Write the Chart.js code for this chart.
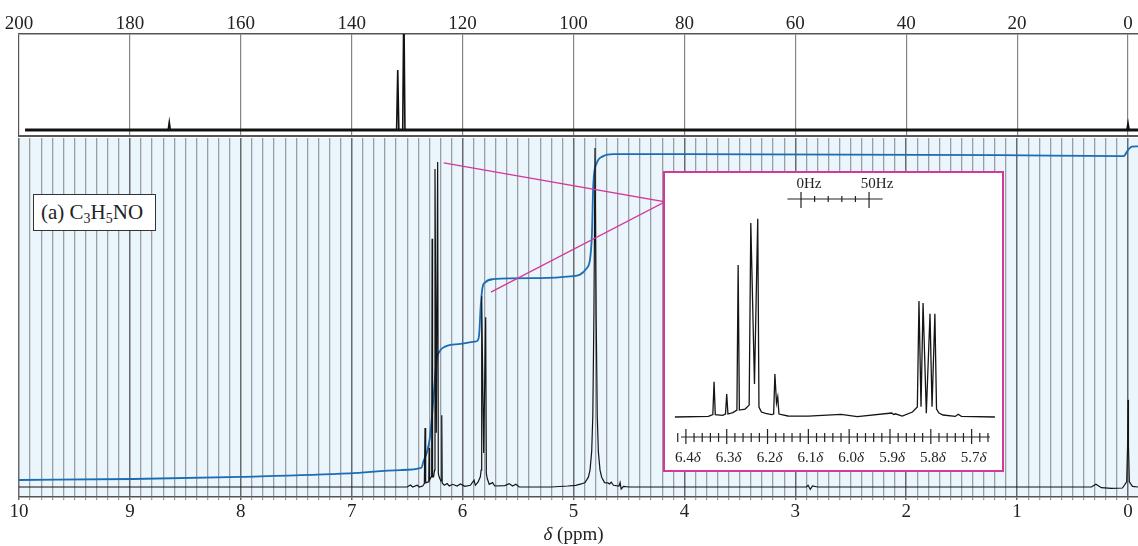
<!DOCTYPE html>
<html>
<head>
<meta charset="utf-8">
<script src="https://cdn.jsdelivr.net/npm/chart.js@4"></script>
<style>
  body { margin: 0; background: #fff; }
  #wrap { position: relative; width: 1138px; height: 546px; overflow: hidden; }
  canvas { position: absolute; left: 0; top: 0; }
  #inset { position: absolute; left: 663px; top: 171px; width: 341px; height: 301px; box-sizing: border-box;
           border: 2px solid #d6379a; background: #fff; }
  #formula { position: absolute; left: 33px; top: 194px; width: 123px; height: 37px; box-sizing: border-box;
             border: 1px solid #333; background: #fff; font: 21px "Liberation Serif", serif; color: #222;
             padding-left: 7px; line-height: 34px; white-space: nowrap; }
  #formula sub { font-size: 14px; vertical-align: -4px; line-height: 0; }
</style>
</head>
<body>
<div id="wrap">
  <canvas id="cChart" width="1138" height="546"></canvas>
  <canvas id="hChart" width="1138" height="546"></canvas>
  <div id="formula">(a) C<sub>3</sub>H<sub>5</sub>NO</div>
  <div id="inset"></div>
  <canvas id="insetChart" width="1138" height="546"></canvas>
</div>
<script>
const SERIF = '"Liberation Serif", "Times New Roman", serif';

// 13C spectrum (ppm, intensity)
const cPpm = [198.9, 173.1, 172.9, 172.7, 131.9, 131.7, 131.5, 130.8, 130.6, 130.4, 0.2, 0.0, -0.2, -1.8];
const cInt = [0, 0, 8, 0, 0, 60, 0, 0, 130, 0, 0, 7, 0, 0];
const cNoise = [[198.9, 0], [-1.8, 0]];
const cTicks = [0, 20, 40, 60, 80, 100, 120, 140, 160, 180, 200];

// 1H spectrum (ppm, intensity)
const hPpm = [10.0, 6.50, 6.47, 6.45, 6.41, 6.39, 6.36, 6.345, 6.339, 6.333, 6.31, 6.305, 6.302, 6.298, 6.283, 6.279, 6.275,
  6.271, 6.262, 6.253, 6.249, 6.237, 6.225, 6.219, 6.212, 6.196, 6.192, 6.188, 6.184, 6.165, 6.14, 6.12, 6.09, 6.05, 6.02, 5.98, 5.93,
  5.897, 5.885, 5.86, 5.84, 5.833, 5.828, 5.81, 5.792, 5.786, 5.778, 5.76, 5.73, 5.71, 5.62, 5.58, 5.55, 5.52, 5.49, 5.20,
  5.05, 4.98, 4.93, 4.896, 4.866, 4.851, 4.836, 4.826, 4.816, 4.806, 4.796, 4.786, 4.776, 4.761, 4.746, 4.72,
  4.69, 4.675, 4.66, 4.64, 4.59, 4.58, 4.57, 4.55, 4.50, 2.90, 2.885, 2.865, 2.845, 2.80, 0.33, 0.29, 0.24,
  0.15, 0.05, 0.012, 0.004, 0.0, -0.004, -0.012, -0.04, -0.09];
const hInt = [0, 0, 0.6, 0, 0.5, 0, 0.3, 1.0, 17.4, 1.2, 1.5, 2, 11.5, 2, 3, 4, 73.2,
  3, 3, 5, 93.8, 16, 95.9, 4, 3, 1.8, 2, 21.2, 1.2, 0.5, 1.0, 0.3, 0.8, 0.3, 0.9, 0.2, 0.5,
  2.0, 0.5, 1.5, 3, 5, 56.3, 10, 50.1, 4, 2.5, 0.8, 1.3, 0.3, 0.4, 1.0, 0.3, 0.8, 0, 0,
  0.3, 0.5, 0.9, 1.3, 2.9, 5, 10.5, 21, 51, 100, 51, 21, 10.5, 5, 2.9, 1.3,
  1.2, 0.9, 1.4, 0.5, 0.3, 1.3, -0.6, 0.2, 0, 0, 0.5, -0.7, 0.3, 0, 0, 0.8, -0.2,
  -0.4, -0.3, 1.5, 12, 25.7, 12, 1.5, 0.2, 0];

// integral trace
const iPpm = [10.0, 8.97, 8.0, 7.02, 6.56, 6.37, 6.354, 6.324, 6.294, 6.264, 6.234, 6.21, 6.159, 6.02, 5.89,
  5.867, 5.85, 5.837, 5.822, 5.798, 5.723, 5.30, 5.002, 4.881, 4.836, 4.821, 4.791, 4.731, 4.641, 4.04,
  1.15, 0.04, 0.0, -0.034, -0.09];
const iVal = [2.06, 2.36, 3.0, 4.0, 5.0, 5.7, 7.5, 10, 14.8, 25.7, 37.5, 39.9, 41.4, 42.2, 42.9,
  43.1, 45.3, 53.2, 58.6, 60.3, 61.3, 61.6, 62.2, 64.5, 72.9, 89.6, 95.5, 97.6, 98.2, 98.2,
  97.9, 97.6, 99.4, 100.4, 100.5];

// expansion guide lines (ppm, intensity)
const linkPpm = [6.17, 4.175, 5.745];
const linkInt = [95.6, 84.1, 57.5];

// expanded region 6.4 - 5.7 ppm
const xPpm = [6.427, 6.345, 6.334, 6.331, 6.328, 6.31, 6.303, 6.300, 6.297, 6.285, 6.275, 6.272, 6.269, 6.255,
  6.245, 6.241, 6.232, 6.224, 6.221, 6.215, 6.205, 6.19, 6.185, 6.182, 6.178, 6.175, 6.172, 6.15, 6.10,
  6.02, 5.98, 5.896, 5.891, 5.887, 5.87, 5.845, 5.833, 5.829, 5.824, 5.819, 5.811, 5.802, 5.797, 5.790,
  5.786, 5.78, 5.77, 5.74, 5.733, 5.725, 5.643];
const xInt = [0, 0.3, 1.2, 17.7, 1.2, 0.8, 1.5, 11.6, 1.5, 2.2, 3.5, 76.7, 3.5, 4,
  6, 97.8, 16.6, 100, 5, 2.5, 1.8, 1.2, 1.5, 21.7, 7, 10.1, 1.5, 0.5, 0.4,
  1.3, 0.2, 2, 1.2, 1.6, 0.5, 2.5, 5, 58.5, 5.2, 57.5, 1.9, 52, 5.2, 52,
  4, 2, 1, 0.3, 1.4, 0.3, 0];
const xMajor = [6.4, 6.3, 6.2, 6.1, 6.0, 5.9, 5.8, 5.7];
const hzZero = 6.118, mhz = 300;
const hzTicks = [0, 10, 20, 30, 40, 50];
const hzLabels = { 0: '0Hz', 50: '50Hz' };

const pts = (xs, ys) => xs.map((x, i) => ({ x, y: ys[i] }));
const isInt = v => Math.abs(v - Math.round(v)) < 1e-6;
const base = {
  type: 'line',
  options: {
    responsive: false, animation: false, devicePixelRatio: 1, events: [],
    plugins: { legend: { display: false }, tooltip: { enabled: false } },
    elements: { point: { radius: 0 } }
  }
};

// ---- 13C panel
const cFrame = {
  id: 'cFrame',
  afterDraw(chart) {
    const { ctx, chartArea: a } = chart;
    ctx.save();
    ctx.strokeStyle = '#555';
    ctx.lineWidth = 2;
    ctx.beginPath();
    ctx.moveTo(a.left, a.bottom - 1);
    ctx.lineTo(a.right, a.bottom - 1);
    ctx.stroke();
    ctx.restore();
  }
};

new Chart(document.getElementById('cChart'), {
  ...base,
  data: {
    datasets: [
      { data: pts(cPpm, cInt), borderColor: '#111', borderWidth: 1.6 },
      { data: cNoise.map(p => ({ x: p[0], y: p[1] })), borderColor: '#151515', borderWidth: 3.2 }
    ]
  },
  options: {
    ...base.options,
    layout: { padding: { left: 19, right: 0, top: 0, bottom: 409 } },
    scales: {
      x: {
        type: 'linear', position: 'top', min: -1.8, max: 200, reverse: true,
        afterBuildTicks: s => { s.ticks = cTicks.map(v => ({ value: v })); },
        afterFit: s => { s.height = 34; },
        grid: { color: c => c.tick.value === 200 ? '#555' : '#858585', lineWidth: 1.2, drawTicks: false },
        border: { display: true, color: '#555', width: 1.5 },
        ticks: { autoSkip: false, maxRotation: 0, padding: -1, color: '#222', font: { family: SERIF, size: 19 } }
      },
      y: { display: false, min: -7, max: 96 }
    }
  },
  plugins: [cFrame]
});

// ---- 1H panel
const hTicks = [];
for (let i = 0; i <= 100; i++) hTicks.push(i / 10);

const hPanel = {
  id: 'hPanel',
  beforeDraw(chart) {
    const { ctx, chartArea: a } = chart;
    ctx.save();
    ctx.fillStyle = '#eaf5fc';
    ctx.fillRect(a.left, a.top, a.right - a.left, a.bottom - a.top);
    ctx.restore();
  },
  afterDraw(chart) {
    const { ctx, scales: { x } } = chart;
    const cx = x.getPixelForValue(5);
    ctx.save();
    ctx.fillStyle = '#222';
    ctx.textBaseline = 'alphabetic';
    ctx.font = 'italic 19px ' + SERIF;
    const w1 = ctx.measureText('δ').width;
    ctx.font = '19px ' + SERIF;
    const w2 = ctx.measureText(' (ppm)').width;
    const x0 = cx - (w1 + w2) / 2;
    ctx.font = 'italic 19px ' + SERIF;
    ctx.fillText('δ', x0, 540);
    ctx.font = '19px ' + SERIF;
    ctx.fillText(' (ppm)', x0 + w1, 540);
    ctx.restore();
  }
};

new Chart(document.getElementById('hChart'), {
  ...base,
  data: {
    datasets: [
      { data: pts(linkPpm, linkInt), borderColor: '#d6379a', borderWidth: 1.3, order: 0 },
      { data: pts(hPpm, hInt), borderColor: '#151515', borderWidth: 1.2, order: 1 },
      { data: pts(iPpm, iVal), borderColor: '#1a6db5', borderWidth: 1.8, cubicInterpolationMode: 'monotone', order: 2 }
    ]
  },
  options: {
    ...base.options,
    layout: { padding: { left: 19, right: 0, top: 138, bottom: 0 } },
    scales: {
      x: {
        type: 'linear', position: 'bottom', min: -0.09, max: 10, reverse: true,
        afterBuildTicks: s => { s.ticks = hTicks.map(v => ({ value: v })); },
        afterFit: s => { s.height = 49; },
        grid: {
          color: c => isInt(c.tick.value) ? '#6a6a6a' : '#999ea3',
          tickColor: c => isInt(c.tick.value) ? '#6a6a6a' : '#999ea3',
          lineWidth: c => isInt(c.tick.value) ? 1.5 : 1.3,
          drawTicks: true, tickLength: 3
        },
        border: { display: true, color: '#555', width: 1.5 },
        ticks: {
          autoSkip: false, maxRotation: 0, padding: 1, color: '#222', font: { family: SERIF, size: 19 },
          callback: v => isInt(v) ? String(Math.round(v)) : ''
        }
      },
      y: { display: false, min: -2.95, max: 102.95 }
    }
  },
  plugins: [hPanel]
});

// ---- expansion inset
const xMinor = [];
for (let k = 283; k <= 321; k++) if (k % 5 !== 0) xMinor.push(k / 50);

const insetAxis = {
  id: 'insetAxis',
  afterDatasetsDraw(chart) {
    const { ctx, chartArea: a, scales: { x } } = chart;
    const y0 = a.bottom;
    const line = (x1, y1, x2, y2) => { ctx.beginPath(); ctx.moveTo(x1, y1); ctx.lineTo(x2, y2); ctx.stroke(); };
    ctx.save();
    ctx.strokeStyle = '#222';
    ctx.lineWidth = 1.2;
    line(a.left, y0, a.right, y0);
    xMinor.forEach(v => { const p = x.getPixelForValue(v); line(p, y0 - 4, p, y0 + 5); });
    xMajor.forEach(v => { const p = x.getPixelForValue(v); line(p, y0 - 8, p, y0 + 7); });
    ctx.fillStyle = '#222';
    ctx.textBaseline = 'alphabetic';
    xMajor.forEach(v => {
      const num = v.toFixed(1);
      ctx.font = '15px ' + SERIF;
      const w1 = ctx.measureText(num).width;
      ctx.font = 'italic 15px ' + SERIF;
      const w2 = ctx.measureText('δ').width;
      const x0 = x.getPixelForValue(v) + 2 - (w1 + w2) / 2;
      ctx.font = '15px ' + SERIF;
      ctx.fillText(num, x0, y0 + 25);
      ctx.font = 'italic 15px ' + SERIF;
      ctx.fillText('δ', x0 + w1, y0 + 25);
    });
    // Hz scale bar
    const hy = a.top + 28;
    const hp = hz => x.getPixelForValue(hzZero - hz / mhz);
    line(hp(-10), hy, hp(60), hy);
    hzTicks.forEach(hz => {
      const p = hp(hz);
      if (hzLabels[hz]) {
        line(p, hy - 7, p, hy + 9);
        ctx.font = '15px ' + SERIF;
        ctx.textAlign = 'center';
        ctx.fillText(hzLabels[hz], p + 8, hy - 11);
      } else {
        line(p, hy - 3, p, hy + 3);
      }
    });
    ctx.restore();
  }
};

new Chart(document.getElementById('insetChart'), {
  ...base,
  data: {
    datasets: [{ data: pts(xPpm, xInt), borderColor: '#151515', borderWidth: 1.3, clip: false }]
  },
  options: {
    ...base.options,
    layout: { padding: { left: 681, right: 148, top: 171, bottom: 109 } },
    scales: {
      x: { type: 'linear', display: false, min: 5.655, max: 6.412, reverse: true },
      y: { display: false, min: -10.09, max: 124.05 }
    }
  },
  plugins: [insetAxis]
});
</script>
</body>
</html>
